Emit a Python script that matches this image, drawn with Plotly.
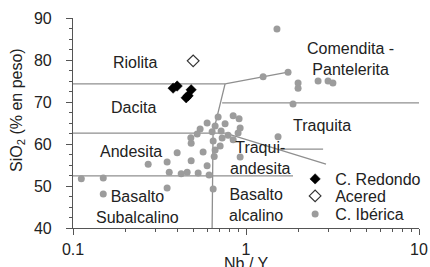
import numpy as np
import plotly.graph_objects as go

# ---------------- data ----------------
redondo_nby = [0.379, 0.400, 0.482, 0.463, 0.451]
redondo_sio2 = [73.3, 73.8, 72.9, 71.5, 71.0]

acered_nby = [0.495]
acered_sio2 = [79.8]

iberica_nby = [0.1117, 0.1496, 0.1496, 0.272, 0.350, 0.400, 0.482, 0.482, 0.565, 0.663,
               0.360, 0.422, 0.457, 0.529, 0.596, 0.612, 0.350, 0.646, 0.925, 1.532,
               0.843, 0.912, 0.690, 0.596, 0.757, 0.663, 0.925, 0.543, 0.718, 0.637,
               0.522, 0.900, 0.788, 0.646, 0.728, 0.843, 0.709, 1.256, 1.75, 1.51,
               2.00, 2.00, 2.61, 2.98, 3.18, 1.87, 0.480, 0.655]
iberica_sio2 = [51.7, 51.9, 48.1, 55.2, 55.7, 57.9, 56.0, 60.2, 58.1, 58.6,
                53.3, 52.9, 53.3, 53.1, 54.8, 52.6, 49.5, 49.3, 56.9, 61.7,
                66.7, 66.0, 66.4, 65.0, 64.8, 64.3, 63.8, 63.6, 63.1, 62.9,
                62.4, 62.6, 62.1, 60.7, 61.4, 61.0, 59.5, 76.0, 77.1, 87.4,
                74.5, 73.3, 75.0, 75.0, 74.5, 69.5, 61.5, 57.0]

# classification boundaries (Nb/Y, SiO2)
b_riol_dac_x = [0.1, 0.757]
b_riol_dac_y = [74.3, 74.3]
b_com_x = [0.757, 1.256, 1.75]
b_com_y = [74.3, 76.0, 77.1]
b_vert_x = [0.757, 0.68, 0.645, 0.637]
b_vert_y = [74.3, 66.7, 62.6, 40.0]
b_com_traq_x = [0.728, 10.0]
b_com_traq_y = [69.8, 69.8]
b_dac_and_x = [0.1, 0.76, 2.90]
b_dac_and_y = [62.6, 62.6, 55.2]
b_and_bas_x = [0.1, 1.87]
b_and_bas_y = [52.4, 52.4]
b_traq_x = [1.57, 2.79]
b_traq_y = [58.8, 58.8]

tick_vals = [0.1, 1, 10]
tick_text = ["0.1", "1", "10"]

FONT = "Arial, Liberation Sans, sans-serif"
LINE_COL = "#8f8f8f"
TXT = "#222222"

fig = go.Figure()

for bx, by in [(b_riol_dac_x, b_riol_dac_y), (b_com_x, b_com_y), (b_vert_x, b_vert_y),
               (b_com_traq_x, b_com_traq_y), (b_dac_and_x, b_dac_and_y),
               (b_and_bas_x, b_and_bas_y), (b_traq_x, b_traq_y)]:
    fig.add_trace(go.Scatter(x=bx, y=by, mode="lines", showlegend=False, hoverinfo="skip",
                             line=dict(color=LINE_COL, width=1.3)))

fig.add_trace(go.Scatter(x=redondo_nby, y=redondo_sio2, mode="markers", name="C. Redondo",
                         legend="legend",
                         marker=dict(symbol="diamond", size=8, color="#000000",
                                     line=dict(color="#000000", width=0.5))))
fig.add_trace(go.Scatter(x=acered_nby, y=acered_sio2, mode="markers", name="Acered",
                         legend="legend2",
                         marker=dict(symbol="diamond-open", size=9, color="#333333",
                                     line=dict(color="#333333", width=1.2))))
fig.add_trace(go.Scatter(x=iberica_nby, y=iberica_sio2, mode="markers", name="C. Ibérica",
                         legend="legend3",
                         marker=dict(symbol="circle", size=7, color="#9c9c9c",
                                     line=dict(width=0))))

labels = [
    ("Riolita", 0.229, 79.3),
    ("Dacita", 0.223, 68.6),
    ("Andesita", 0.217, 58.1),
    ("Basalto<br>Subalcalino", 0.235, 45.0),
    ("Comendita -<br>Pantelerita", 4.04, 80.2),
    ("Traquita", 2.75, 64.5),
    ("Traqui-<br>andesita", 1.206, 56.7),
    ("Basalto<br>alcalino", 1.143, 45.5),
]
for t, lx, ly in labels:
    fig.add_annotation(x=np.log10(lx), y=ly, xref="x", yref="y", text=t, showarrow=False,
                       font=dict(family=FONT, size=16, color=TXT), align="center")

# axis titles
fig.add_annotation(x=0.5, y=-0.167, xref="paper", yref="paper", text="Nb / Y",
                   xanchor="center", yanchor="middle",
                   showarrow=False, font=dict(family=FONT, size=16, color=TXT))
fig.add_annotation(x=-0.159, y=0.562, xref="paper", yref="paper",
                   text="SiO<sub>2</sub> (% en peso)", textangle=-90,
                   xanchor="center", yanchor="middle",
                   showarrow=False, font=dict(family=FONT, size=16, color=TXT))

fig.update_xaxes(type="log", range=[-1, 1], tickvals=tick_vals, ticktext=tick_text,
                 showline=True, linecolor="#555555", linewidth=1.2,
                 ticks="outside", ticklen=6, tickcolor="#555555", tickwidth=1.2,
                 minor=dict(ticks="outside", ticklen=3, tickcolor="#555555", dtick="D1",
                            showgrid=False),
                 showgrid=False, zeroline=False, ticklabelstandoff=1,
                 tickfont=dict(family=FONT, size=16, color=TXT))
fig.update_yaxes(range=[40, 90], dtick=10, tick0=40,
                 showline=True, linecolor="#555555", linewidth=1.2,
                 ticks="outside", ticklen=6, tickcolor="#555555", tickwidth=1.2,
                 minor=dict(ticks="outside", ticklen=3, tickcolor="#555555", dtick=2.5,
                            showgrid=False),
                 showgrid=False, zeroline=False, ticklabelstandoff=11,
                 tickfont=dict(family=FONT, size=16, color=TXT))

leg_common = dict(x=0.642, xanchor="left", yanchor="middle",
                  bgcolor="rgba(0,0,0,0)", borderwidth=0,
                  font=dict(family=FONT, size=16, color=TXT), itemsizing="trace")

fig.update_layout(
    width=430, height=267,
    margin=dict(l=73, r=11, t=18, b=39, autoexpand=False),
    plot_bgcolor="white", paper_bgcolor="white",
    font=dict(family=FONT, size=16, color=TXT),
    legend=dict(y=(228 - 179) / 210, **leg_common),
    legend2=dict(y=(228 - 196) / 210, **leg_common),
    legend3=dict(y=(228 - 214) / 210, **leg_common),
    showlegend=True,
)

fig.write_html("out.html", config={"displayModeBar": False},
               post_script="document.body.style.margin='0px';document.body.style.overflow='hidden';")
